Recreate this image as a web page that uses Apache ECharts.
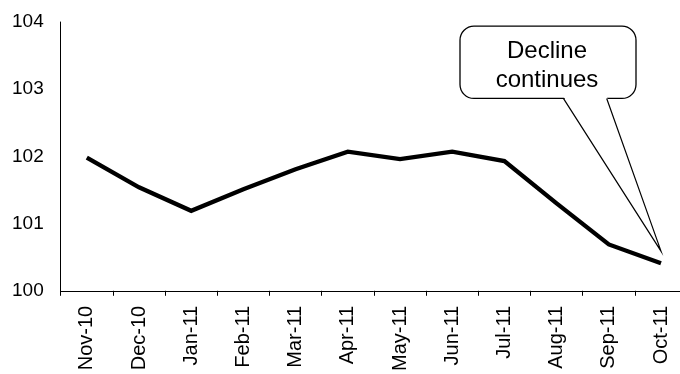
<!DOCTYPE html>
<html>
<head>
<meta charset="utf-8">
<script src="https://cdn.jsdelivr.net/npm/echarts@6/dist/echarts.min.js"></script>
<style>
  html, body { margin: 0; padding: 0; background: #fff; overflow: hidden; width: 680px; height: 374px; }
  /* drawing surface is slightly wider than the view so the plot runs off the right edge */
  #chart { width: 700px; height: 374px; }
</style>
</head>
<body>
<div id="chart"></div>
<script>
// Monthly index, Nov 2010 – Oct 2011
var months = ['Nov-10', 'Dec-10', 'Jan-11', 'Feb-11', 'Mar-11', 'Apr-11',
              'May-11', 'Jun-11', 'Jul-11', 'Aug-11', 'Sep-11', 'Oct-11'];
var indexValues = [101.98, 101.54, 101.19, 101.51, 101.81, 102.07,
                   101.96, 102.07, 101.93, 101.30, 100.69, 100.41];
var yTicks = { min: 100, max: 104, step: 1 };

// Callout text and the point its tail aims at
var calloutText = 'Decline\ncontinues';
var calloutAnchor = ['Oct-11', 100.59];

var FONT = '"Liberation Sans", Arial, sans-serif';
var chart = echarts.init(document.getElementById('chart'), null, { renderer: 'canvas' });

chart.setOption({
  animation: false,
  backgroundColor: '#ffffff',
  grid: { left: 60.7, width: 626.4, top: 22, bottom: 81.3, containLabel: false },
  xAxis: {
    type: 'category',
    data: months,
    boundaryGap: true,
    axisLine: { show: true, lineStyle: { color: '#000', width: 1 } },
    axisTick: { show: true, length: 5, lineStyle: { color: '#000', width: 1 } },
    axisLabel: { rotate: 90, margin: 15, color: '#000', fontSize: 20, fontFamily: FONT, interval: 0 },
    splitLine: { show: false }
  },
  yAxis: {
    type: 'value',
    min: yTicks.min,
    max: yTicks.max,
    interval: yTicks.step,
    axisLine: { show: true, lineStyle: { color: '#000', width: 1 } },
    axisTick: { show: false },
    axisLabel: { margin: 17, color: '#000', fontSize: 19, fontFamily: FONT },
    splitLine: { show: false }
  },
  series: [{
    type: 'line',
    data: indexValues,
    symbol: 'none',
    lineStyle: { color: '#000', width: 4.3, join: 'miter' }
  }]
});

// Speech-bubble callout: rounded box with a tail that ends at the anchor
var tip = chart.convertToPixel({ gridIndex: 0 }, calloutAnchor);
var tx = tip[0], ty = tip[1];
var L = tx - 201, R = tx - 25, T = ty - 225, B = ty - 152.7;
var b1 = tx - 97.6, b2 = tx - 54.3;

chart.setOption({
  graphic: [
    {
      type: 'rect',
      shape: { x: L, y: T, width: R - L, height: B - T, r: 14 },
      style: { fill: '#fff', stroke: '#000', lineWidth: 1.3 },
      z: 10
    },
    {
      // white wedge that opens the box's bottom edge where the tail leaves it
      type: 'polygon',
      shape: { points: [[b1, B - 2], [b2, B - 2], [tx, ty]] },
      style: { fill: '#fff', stroke: null },
      z: 11
    },
    {
      type: 'polyline',
      shape: { points: [[b1, B], [tx, ty], [b2, B]] },
      style: { stroke: '#000', lineWidth: 1.2, fill: null },
      z: 12
    },
    {
      type: 'text',
      x: (L + R) / 2 - 1,
      y: (T + B) / 2 + 4,
      style: {
        text: calloutText,
        fill: '#000',
        fontSize: 24,
        fontFamily: FONT,
        align: 'center',
        verticalAlign: 'middle',
        lineHeight: 29
      },
      z: 13
    }
  ]
});
</script>
</body>
</html>
